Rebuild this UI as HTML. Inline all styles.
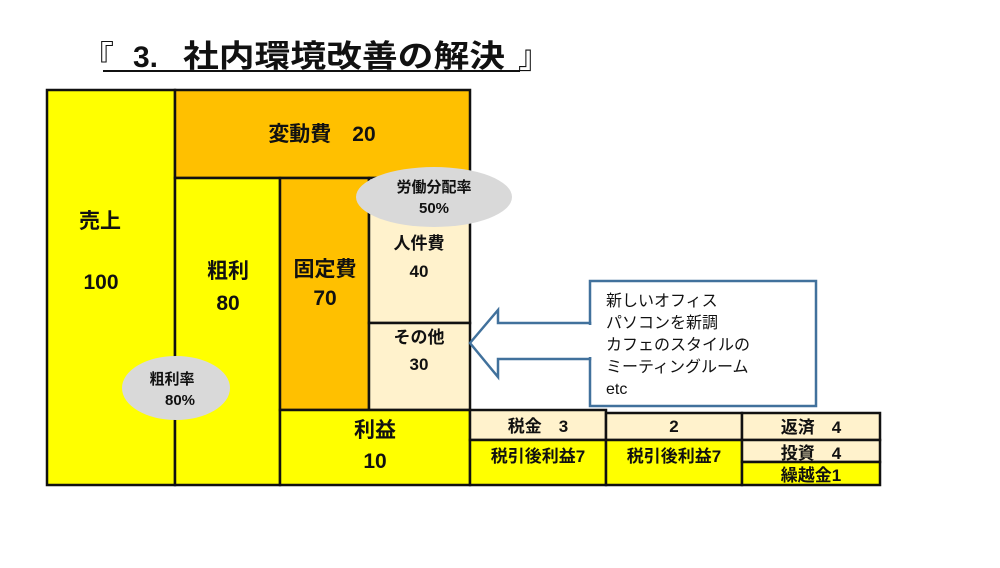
<!DOCTYPE html>
<html><head><meta charset="utf-8"><style>
body{margin:0;width:1000px;height:563px;background:#fff;overflow:hidden;font-family:"Liberation Sans","Noto Sans CJK JP",sans-serif;}
svg text{font-family:"Liberation Sans","Noto Sans CJK JP",sans-serif;font-weight:bold;fill:#111;}
</style></head><body>
<svg width="1000" height="563" viewBox="0 0 1000 563">
<text x="82" y="68" font-size="32" style="font-weight:normal">『</text>
<text x="133" y="67" font-size="30" style="font-weight:bold">3.</text>
<text x="183" y="67" font-size="31" textLength="322" lengthAdjust="spacingAndGlyphs" style="font-weight:bold">社内環境改善の解決</text>
<line x1="103" y1="71" x2="520" y2="71" stroke="#111" stroke-width="2"/>
<text x="518" y="68" font-size="32" style="font-weight:normal">』</text>
<g stroke="#111" stroke-width="2.5">
<rect x="47" y="90" width="128" height="395" fill="#ffff00"/>
<rect x="175" y="90" width="295" height="88" fill="#ffc000"/>
<rect x="175" y="178" width="105" height="307" fill="#ffff00"/>
<rect x="280" y="178" width="89" height="232" fill="#ffc000"/>
<rect x="369" y="178" width="101" height="145" fill="#fff2cc"/>
<rect x="369" y="323" width="101" height="87" fill="#fff2cc"/>
<rect x="280" y="410" width="190" height="75" fill="#ffff00"/>
<rect x="470" y="410" width="136" height="30" fill="#fff2cc"/>
<rect x="470" y="440" width="136" height="45" fill="#ffff00"/>
<rect x="606" y="413" width="136" height="27" fill="#fff2cc"/>
<rect x="606" y="440" width="136" height="45" fill="#ffff00"/>
<rect x="742" y="413" width="138" height="27" fill="#fff2cc"/>
<rect x="742" y="440" width="138" height="22" fill="#fff2cc"/>
<rect x="742" y="462" width="138" height="23" fill="#ffff00"/>
</g>
<ellipse cx="434" cy="197" rx="78" ry="30" fill="#d9d9d9"/>
<ellipse cx="176" cy="388" rx="54" ry="32" fill="#d9d9d9"/>
<rect x="590" y="281" width="226" height="125" fill="#fff" stroke="#41719c" stroke-width="2.5"/>
<polygon points="470,343 498,310 498,323 590,323 590,359 498,359 498,377" fill="#fff" stroke="#41719c" stroke-width="2.5"/>
<line x1="590" y1="325" x2="590" y2="357" stroke="#fff" stroke-width="3"/>
<g font-size="21" text-anchor="middle">
<text x="100" y="228">売上</text>
<text x="101" y="289">100</text>
<text x="322" y="141">変動費　20</text>
<text x="228" y="278">粗利</text>
<text x="228" y="310">80</text>
<text x="325" y="276">固定費</text>
<text x="325" y="305">70</text>
<text x="375" y="437">利益</text>
<text x="375" y="468">10</text>
</g>
<g font-size="17" text-anchor="middle">
<text x="419" y="249">人件費</text>
<text x="419" y="277">40</text>
<text x="419" y="343">その他</text>
<text x="419" y="370">30</text>
<text x="538" y="432">税金　3</text>
<text x="538" y="462">税引後利益7</text>
<text x="674" y="432">2</text>
<text x="674" y="462">税引後利益7</text>
<text x="811" y="433">返済　4</text>
<text x="811" y="459">投資　4</text>
<text x="811" y="481">繰越金1</text>
</g>
<g font-size="15" text-anchor="middle">
<text x="434" y="192">労働分配率</text>
<text x="434" y="213">50%</text>
<text x="172" y="384">粗利率</text>
<text x="180" y="405">80%</text>
</g>
<g font-size="16">
<text x="606" y="306" style="font-weight:normal">新しいオフィス</text>
<text x="606" y="328" style="font-weight:normal">パソコンを新調</text>
<text x="606" y="350" style="font-weight:normal">カフェのスタイルの</text>
<text x="606" y="372" style="font-weight:normal">ミーティングルーム</text>
<text x="606" y="394" style="font-weight:normal">etc</text>
</g>
</svg>
</body></html>
